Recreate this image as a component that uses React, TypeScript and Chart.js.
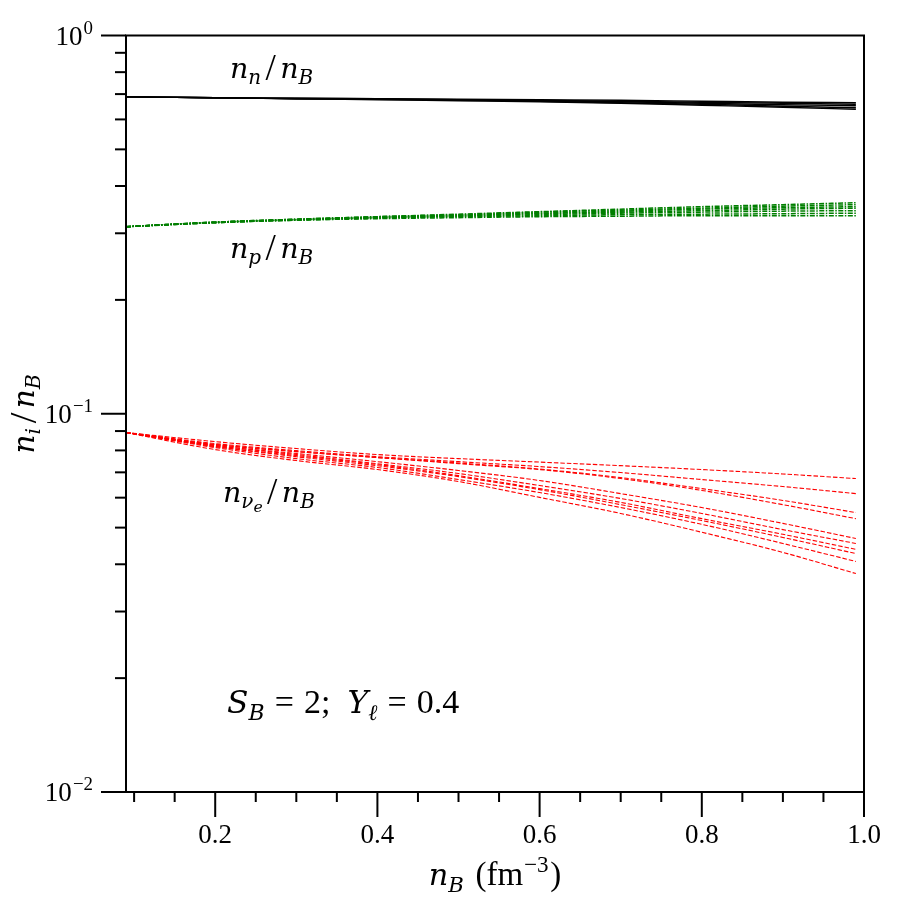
import React, { useEffect, useRef } from "react";
import { Chart, registerables } from "chart.js";

Chart.register(...registerables);

// Baryon density grid (fm^-3)
const densityGrid = [0.09, 0.2, 0.3, 0.4, 0.5, 0.6, 0.7, 0.8, 0.9, 0.99];

// Neutron fractions n_n / n_B
const neutronRuns = [
  [0.6888, 0.6846, 0.6825, 0.6805, 0.6784, 0.6764, 0.6743, 0.6702, 0.6662, 0.6641],
  [0.6888, 0.6846, 0.6825, 0.6805, 0.6764, 0.6743, 0.6702, 0.6662, 0.6621, 0.6581],
  [0.6888, 0.6846, 0.6805, 0.6784, 0.6764, 0.6723, 0.6682, 0.6621, 0.6561, 0.6521],
  [0.6888, 0.6846, 0.6805, 0.6784, 0.6743, 0.6702, 0.6641, 0.6581, 0.6502, 0.6442],
  [0.6888, 0.6846, 0.6805, 0.6764, 0.6723, 0.6682, 0.6621, 0.6541, 0.6462, 0.6384],
];

// Proton fractions n_p / n_B
const protonRuns = [
  [0.3123, 0.321, 0.3269, 0.3319, 0.337, 0.3422, 0.3475, 0.3528, 0.3571, 0.3615],
  [0.3123, 0.321, 0.3269, 0.3319, 0.336, 0.3412, 0.3454, 0.3496, 0.3539, 0.3571],
  [0.3123, 0.321, 0.3259, 0.3309, 0.335, 0.3391, 0.3433, 0.3475, 0.3506, 0.3528],
  [0.3123, 0.321, 0.3259, 0.3299, 0.3339, 0.338, 0.3412, 0.3443, 0.3475, 0.3496],
  [0.3123, 0.32, 0.3259, 0.3299, 0.3329, 0.336, 0.3391, 0.3412, 0.3433, 0.3443],
  [0.3123, 0.32, 0.3249, 0.3289, 0.3319, 0.3339, 0.336, 0.337, 0.338, 0.3391],
  [0.3123, 0.32, 0.3249, 0.3279, 0.3299, 0.3319, 0.3329, 0.3339, 0.3339, 0.3339],
];

// Electron-neutrino fractions n_nu_e / n_B
const neutrinoRuns = [
  [0.0892, 0.0844, 0.0809, 0.078, 0.0761, 0.0745, 0.0729, 0.0712, 0.0693, 0.0674],
  [0.0892, 0.0834, 0.0799, 0.077, 0.0747, 0.0725, 0.0699, 0.067, 0.0642, 0.0615],
  [0.0892, 0.0829, 0.0794, 0.0766, 0.0741, 0.0714, 0.0678, 0.0634, 0.059, 0.0548],
  [0.0892, 0.0829, 0.0794, 0.0766, 0.0738, 0.0712, 0.0674, 0.0627, 0.0575, 0.0528],
  [0.0892, 0.0824, 0.0785, 0.0747, 0.0708, 0.0666, 0.0615, 0.0565, 0.0513, 0.0468],
  [0.0892, 0.0824, 0.078, 0.0738, 0.0695, 0.0646, 0.0597, 0.0545, 0.0494, 0.0454],
  [0.0892, 0.0819, 0.0775, 0.0734, 0.0686, 0.0634, 0.0583, 0.0528, 0.048, 0.0438],
  [0.0892, 0.0819, 0.077, 0.0729, 0.0682, 0.063, 0.0575, 0.0522, 0.0471, 0.0427],
  [0.0892, 0.0814, 0.0761, 0.0721, 0.067, 0.0619, 0.0565, 0.051, 0.0454, 0.0407],
  [0.0892, 0.0804, 0.0752, 0.0712, 0.0662, 0.0601, 0.0545, 0.0486, 0.043, 0.0378],
];

// Axis ticks
const xMajorTicks = [0.2, 0.4, 0.6, 0.8, 1.0];
const xMajorLabels = ["0.2", "0.4", "0.6", "0.8", "1.0"];
const xMinorTicks = [0.1, 0.15, 0.25, 0.3, 0.35, 0.45, 0.5, 0.55, 0.65, 0.7, 0.75, 0.85, 0.9, 0.95];
const yMajorTicks = [1, 0.1, 0.01];
const yMajorExponents = ["0", "\u22121", "\u22122"];
const yMinorMantissas = [2, 3, 4, 5, 6, 7, 8, 9];

const UPRIGHT = '"Liberation Serif", serif';
const MATH = '"DejaVu Serif", serif';

// m: math italic letter; lvl: 0 normal, -1 subscript, -2 sub-subscript, 1 superscript;
// g: extra gap before (em); k: size factor
type Seg = { t: string; m?: boolean; lvl?: number; g?: number; k?: number };

function segFont(s: Seg, size: number) {
  const lvl = s.lvl || 0;
  let fs = (s.m ? size * 0.92 : size) * (s.k || 1);
  if (lvl === -1 || lvl === 1) fs *= 0.7;
  if (lvl === -2) fs *= 0.55;
  return `${s.m ? "italic " : ""}${fs}px ${s.m ? MATH : UPRIGHT}`;
}

function segShift(s: Seg, size: number) {
  const lvl = s.lvl || 0;
  if (lvl === -1) return size * 0.2;
  if (lvl === -2) return size * 0.33;
  if (lvl === 1) return -size * 0.4;
  return (s.k || 1) > 1 ? size * 0.05 : 0;
}

function measureRich(ctx: CanvasRenderingContext2D, segs: Seg[], size: number) {
  let w = 0;
  for (const s of segs) {
    ctx.font = segFont(s, size);
    w += (s.g || 0) * size + ctx.measureText(s.t).width;
  }
  return w;
}

function drawRich(ctx: CanvasRenderingContext2D, segs: Seg[], x: number, y: number, size: number) {
  let cx = x;
  for (const s of segs) {
    cx += (s.g || 0) * size;
    ctx.font = segFont(s, size);
    ctx.fillText(s.t, cx, y + segShift(s, size));
    cx += ctx.measureText(s.t).width;
  }
}

const ratio = (sub: Seg[]): Seg[] => [
  { t: "n", m: true }, ...sub, { t: "/", g: 0.14, k: 1.2 }, { t: "n", m: true, g: 0.14 },
  { t: "B", m: true, lvl: -1 },
];

const decorPlugin = {
  id: "frameAndLabels",
  afterDatasetsDraw(chart: any) {
    const ctx: CanvasRenderingContext2D = chart.ctx;
    const { left, right, top, bottom } = chart.chartArea;
    const xs = chart.scales.x;
    const ys = chart.scales.y;
    ctx.save();
    ctx.strokeStyle = "#000";
    ctx.fillStyle = "#000";
    ctx.lineWidth = 2;
    ctx.strokeRect(left, top, right - left, bottom - top);

    // x ticks (outward)
    for (const v of xMajorTicks) {
      const px = xs.getPixelForValue(v);
      ctx.beginPath();
      ctx.moveTo(px, bottom);
      ctx.lineTo(px, bottom + 25);
      ctx.stroke();
    }
    for (const v of xMinorTicks) {
      const px = xs.getPixelForValue(v);
      ctx.beginPath();
      ctx.moveTo(px, bottom);
      ctx.lineTo(px, bottom + 10);
      ctx.stroke();
    }
    // y ticks (outward)
    for (const v of yMajorTicks) {
      const py = ys.getPixelForValue(v);
      ctx.beginPath();
      ctx.moveTo(left - 25, py);
      ctx.lineTo(left, py);
      ctx.stroke();
    }
    for (const dec of [0.01, 0.1]) {
      for (const m of yMinorMantissas) {
        const py = ys.getPixelForValue(m * dec);
        ctx.beginPath();
        ctx.moveTo(left - 11, py);
        ctx.lineTo(left, py);
        ctx.stroke();
      }
    }

    // x tick labels
    ctx.textBaseline = "alphabetic";
    ctx.textAlign = "center";
    ctx.font = `27px ${UPRIGHT}`;
    xMajorTicks.forEach((v, i) => {
      ctx.fillText(xMajorLabels[i], xs.getPixelForValue(v), 843);
    });

    // y tick labels 10^k
    ctx.textAlign = "left";
    yMajorTicks.forEach((v, i) => {
      const py = ys.getPixelForValue(v);
      const segs: Seg[] = [{ t: "10" }, { t: yMajorExponents[i], lvl: 1, g: 0.04 }];
      const w = measureRich(ctx, segs, 27);
      drawRich(ctx, segs, 93 - w, py + 9, 27);
    });

    // axis titles
    const xTitle: Seg[] = [
      { t: "n", m: true }, { t: "B", m: true, lvl: -1 }, { t: "(fm", g: 0.35 },
      { t: "\u22123", lvl: 1, g: 0.03 }, { t: ")", g: 0.05 },
    ];
    const xw = measureRich(ctx, xTitle, 33);
    drawRich(ctx, xTitle, (left + right) / 2 - xw / 2, 885, 33);

    const yTitle = ratio([{ t: "i", m: true, lvl: -1 }]);
    const yw = measureRich(ctx, yTitle, 32);
    ctx.save();
    ctx.translate(34, (top + bottom) / 2);
    ctx.rotate(-Math.PI / 2);
    drawRich(ctx, yTitle, -yw / 2, 0, 32);
    ctx.restore();

    // curve annotations
    drawRich(ctx, ratio([{ t: "n", m: true, lvl: -1 }]), 230, 78, 31);
    drawRich(ctx, ratio([{ t: "p", m: true, lvl: -1 }]), 230, 258, 31);
    drawRich(ctx, ratio([
      { t: "\u03BD", m: true, lvl: -1 }, { t: "e", m: true, lvl: -2 },
    ]), 223, 502, 31);
    drawRich(ctx, [
      { t: "S", m: true }, { t: "B", m: true, lvl: -1 }, { t: "=", g: 0.3 }, { t: "2;", g: 0.3 },
      { t: "Y", m: true, g: 0.5 }, { t: "\u2113", m: true, lvl: -1 }, { t: "=", g: 0.3 },
      { t: "0.4", g: 0.3 },
    ], 227, 713, 34);
    ctx.restore();
  },
};

function toPoints(vals: number[]) {
  return vals.map((y, i) => ({ x: densityGrid[i], y }));
}

export default function App() {
  const ref = useRef<HTMLCanvasElement | null>(null);
  useEffect(() => {
    if (!ref.current) return;
    const datasets: any[] = [];
    neutrinoRuns.forEach((r) =>
      datasets.push({
        data: toPoints(r),
        borderColor: "#ff0000",
        borderWidth: 1.1,
        borderDash: [4.5, 2],
        pointRadius: 0,
        cubicInterpolationMode: "monotone",
      })
    );
    protonRuns.forEach((r) =>
      datasets.push({
        data: toPoints(r),
        borderColor: "#007f00",
        borderWidth: 1.5,
        borderDash: [5, 1.5, 1.5, 1.5],
        pointRadius: 0,
        cubicInterpolationMode: "monotone",
      })
    );
    neutronRuns.forEach((r) =>
      datasets.push({
        data: toPoints(r),
        borderColor: "#000000",
        borderWidth: 1.4,
        pointRadius: 0,
        cubicInterpolationMode: "monotone",
      })
    );
    const chart = new Chart(ref.current, {
      type: "line",
      data: { datasets },
      options: {
        responsive: false,
        animation: false,
        devicePixelRatio: 1,
        layout: { padding: { left: 126, right: 36, top: 35.5, bottom: 108 } },
        plugins: { legend: { display: false }, tooltip: { enabled: false } },
        scales: {
          x: { type: "linear", min: 0.09, max: 1.0, display: false },
          y: { type: "logarithmic", min: 0.01, max: 1, display: false },
        },
      },
      plugins: [decorPlugin],
    });
    return () => chart.destroy();
  }, []);
  return (
    <div style={{ position: "absolute", left: 0, top: 0, width: 900, height: 900, background: "#fff" }}>
      <canvas ref={ref} width={900} height={900} style={{ width: 900, height: 900, display: "block" }} />
    </div>
  );
}
